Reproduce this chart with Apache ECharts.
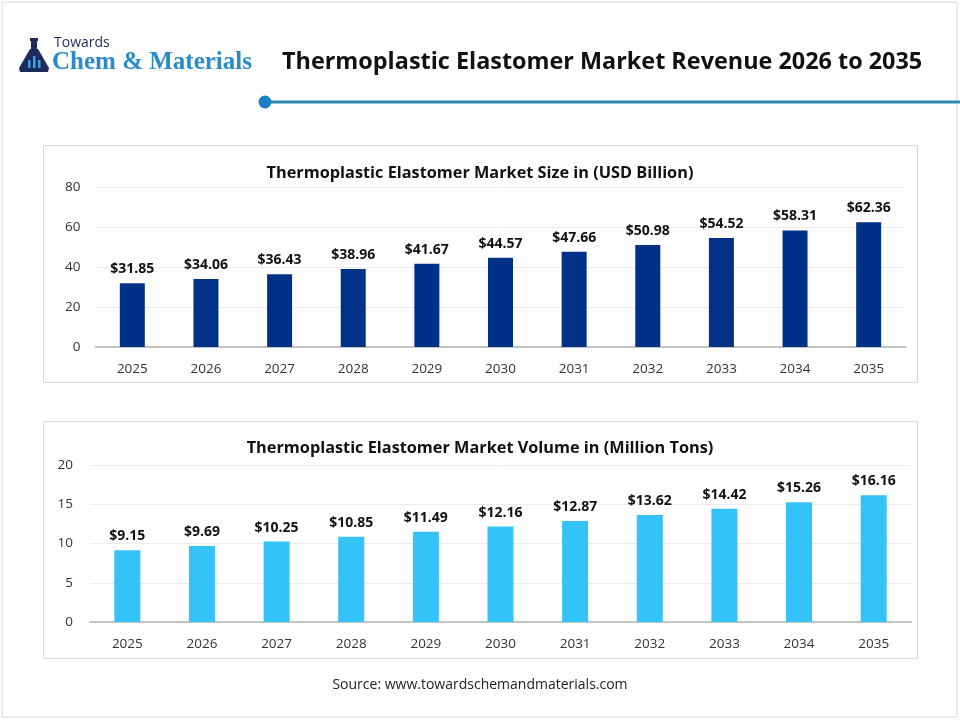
<!DOCTYPE html>
<html><head><meta charset="utf-8">
<script src="https://cdn.jsdelivr.net/npm/echarts@6/dist/echarts.min.js"></script>
<style>html,body{margin:0;padding:0;background:#fff}#c{width:960px;height:720px}</style>
</head><body><div id="c"></div>
<script>
var years = ['2025','2026','2027','2028','2029','2030','2031','2032','2033','2034','2035'];
var sizeValues = [31.85,34.06,36.43,38.96,41.67,44.57,47.66,50.98,54.52,58.31,62.36];
var volumeValues = [9.15,9.69,10.25,10.85,11.49,12.16,12.87,13.62,14.42,15.26,16.16];
var mainTitle = 'Thermoplastic Elastomer Market Revenue 2026 to 2035';
var sizeTitle = 'Thermoplastic Elastomer Market Size in (USD Billion)';
var volumeTitle = 'Thermoplastic Elastomer Market Volume in (Million Tons)';
var sourceText = 'Source: www.towardschemandmaterials.com';

var FONT = 'Open Sans';
var chart = echarts.init(document.getElementById('c'), null, {renderer:'canvas'});
function xAxis(idx){
  return {type:'category', gridIndex:idx, data:years,
    axisLine:{lineStyle:{color:'#c4c4c4', width:2}}, axisTick:{show:false},
    axisLabel:{color:'#333', fontSize:13.5, fontFamily:FONT, margin:15}};
}
function yAxis(idx, max, interval, margin){
  return {type:'value', gridIndex:idx, min:0, max:max, interval:interval,
    axisLine:{show:false}, axisTick:{show:false},
    axisLabel:{color:'#333', fontSize:13.5, fontFamily:FONT, margin:margin},
    splitLine:{lineStyle:{color:'#ebebeb', width:1}}};
}
function lbl(){
  return {show:true, position:'top', distance:7, color:'#111', fontSize:14, fontWeight:'bold', fontFamily:FONT,
    formatter:function(p){return '$'+p.value.toFixed(2);}};
}
chart.setOption({
  animation:false,
  backgroundColor:'#fff',
  title:[
    {text:sizeTitle, left:'center', top:160, textStyle:{fontSize:16.3, fontWeight:'bold', color:'#111', fontFamily:FONT}},
    {text:volumeTitle, left:'center', top:435, textStyle:{fontSize:16.3, fontWeight:'bold', color:'#111', fontFamily:FONT}}
  ],
  grid:[
    {left:95.5, right:54.5, top:187, bottom:373},
    {left:90, right:49, top:465, bottom:98}
  ],
  xAxis:[xAxis(0), xAxis(1)],
  yAxis:[yAxis(0,80,20,15), yAxis(1,20,5,17)],
  series:[
    {type:'bar', xAxisIndex:0, yAxisIndex:0, data:sizeValues, barWidth:25, itemStyle:{color:'#003189'}, label:lbl()},
    {type:'bar', xAxisIndex:1, yAxisIndex:1, data:volumeValues, barWidth:26, itemStyle:{color:'#33c3f7'}, label:lbl()}
  ],
  graphic:[
    {type:'rect', z:-10, shape:{x:2,y:2,width:955,height:715}, style:{fill:'#fff', stroke:'#d6d6d6', lineWidth:1}},
    {type:'rect', z:-5, shape:{x:43.5,y:145.5,width:874,height:237}, style:{fill:'#fff', stroke:'#d9d9d9', lineWidth:1}},
    {type:'rect', z:-5, shape:{x:43.5,y:421.5,width:874,height:237}, style:{fill:'#fff', stroke:'#d9d9d9', lineWidth:1}},
    {type:'line', shape:{x1:265,y1:102,x2:960,y2:102}, style:{stroke:'#2b8aab', lineWidth:3}},
    {type:'circle', shape:{cx:265,cy:102,r:6.5}, style:{fill:'#1a80c6'}},
    {type:'text', left:282, top:51, style:{text:mainTitle, fontSize:23.4, fontWeight:'bold', fill:'#111', fontFamily:FONT}},
    {type:'text', x:480, y:685, style:{text:sourceText, fontSize:14, fill:'#222', fontFamily:FONT, textAlign:'center', textVerticalAlign:'middle'}},
    // logo
    {type:'text', left:54, top:36, style:{text:'Towards', fontSize:14, fill:'#1d2b5a', fontFamily:FONT}},
    {type:'text', left:52, top:50, style:{text:'Chem & Materials', fontSize:25, fontWeight:'bold', fill:'#2a8bcb', fontFamily:'Liberation Serif'}},
    {type:'rect', shape:{x:30,y:38,width:8,height:3}, style:{fill:'#1d2b5a'}},
    {type:'rect', shape:{x:31,y:41,width:6,height:8}, style:{fill:'#1d2b5a'}},
    {type:'polygon', shape:{points:[[30,49],[38,49],[49,68],[48,72],[20,72],[19,68]]}, style:{fill:'#1d2b5a'}},
    {type:'rect', shape:{x:28,y:60,width:2.5,height:8}, style:{fill:'#3aa0e0'}},
    {type:'rect', shape:{x:33,y:56,width:2.5,height:12}, style:{fill:'#3aa0e0'}},
    {type:'rect', shape:{x:38,y:60,width:2.5,height:8}, style:{fill:'#3aa0e0'}}
  ]
});
</script></body></html>
